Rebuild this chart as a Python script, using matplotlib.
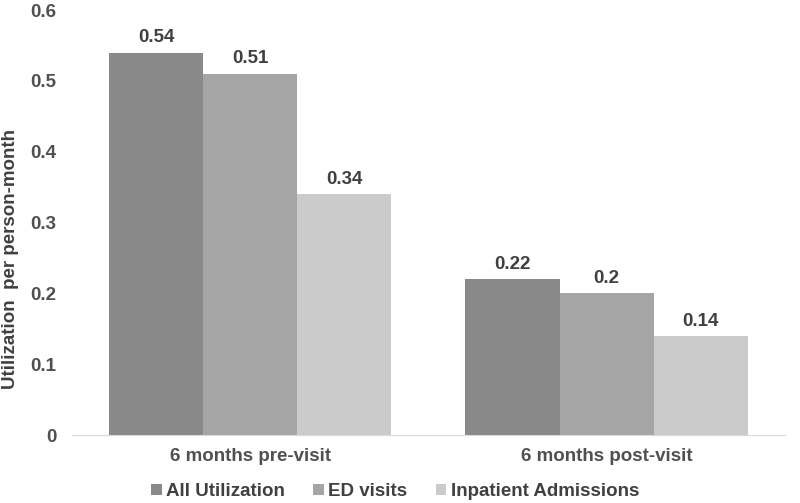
import numpy as np
import matplotlib.pyplot as plt

# data
categories = ['6 months pre-visit', '6 months post-visit']
series = ['All Utilization', 'ED visits', 'Inpatient Admissions']
all_util = [0.54, 0.22]
ed_visits = [0.51, 0.2]
inpatient = [0.34, 0.14]
values = [all_util, ed_visits, inpatient]
colors = ['#898989', '#a5a5a5', '#cbcbcb']

plt.rcParams['font.family'] = ['Liberation Sans', 'DejaVu Sans']
plt.rcParams['font.weight'] = 'bold'

fig = plt.figure(figsize=(8, 5.03), dpi=100)
ax = fig.add_axes([0.09, 0.135, 0.891, 0.845])

x = np.arange(len(categories))
w = 0.264
for i, (vals, name) in enumerate(zip(values, series)):
    pos = x + (i - 1) * w
    bars = ax.bar(pos, vals, w, color=colors[i], label=name)
    for b, v in zip(bars, vals):
        ax.text(b.get_x() + b.get_width() / 2, v + 0.009, f'{v:g}',
                ha='center', va='bottom', fontsize=13.5, fontweight='bold',
                color='#404040')

ax.set_xlim(-0.5, 1.5)
ax.set_ylim(0, 0.6)
ax.set_yticks(np.arange(0, 0.61, 0.1))
ax.set_yticklabels(['0', '0.1', '0.2', '0.3', '0.4', '0.5', '0.6'])
ax.set_xticks(x)
ax.set_xticklabels(categories)
ax.tick_params(axis='both', length=0, labelsize=13.5, colors='#505050')
ax.tick_params(axis='x', pad=9)
ax.tick_params(axis='y', pad=11)
for s in ['top', 'right', 'left']:
    ax.spines[s].set_visible(False)
ax.spines['bottom'].set_color('#d9d9d9')
fig.text(0.013, 0.485, 'Utilization  per person-month', rotation=90,
         ha='center', va='center', fontsize=13.5, fontweight='bold',
         color='#404040')

fig.legend(loc='center', bbox_to_anchor=(0.494, 0.022), ncol=3, frameon=False,
           fontsize=13.5, handlelength=0.55, handleheight=0.55, handletextpad=0.25,
           columnspacing=1.5, labelcolor='#404040')

fig.savefig('out.png', dpi=100)
